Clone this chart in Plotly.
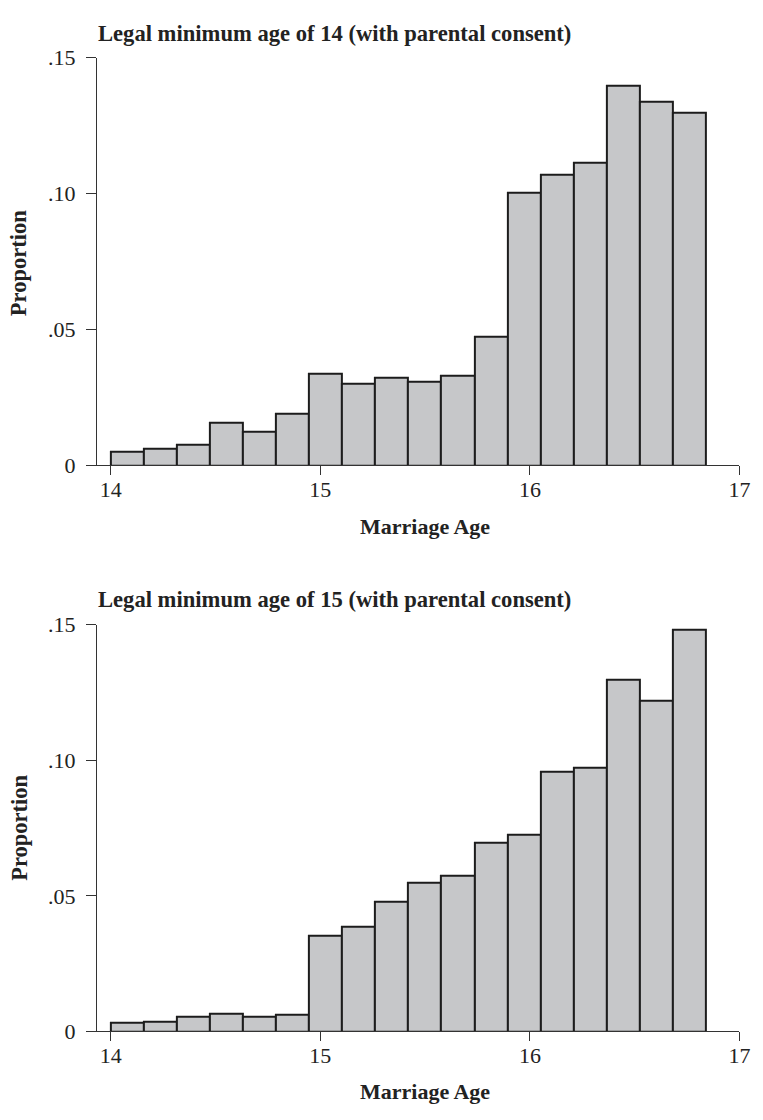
import plotly.graph_objects as go

# ---- data ----
bin_start = 14.0
bin_width = 0.15775
top_values = [0.0052, 0.0062, 0.0078, 0.0159, 0.0126, 0.0192, 0.0339, 0.0300, 0.0323,
              0.0308, 0.0329, 0.0472, 0.1004, 0.1069, 0.1115, 0.1396, 0.1338, 0.1299]
bottom_values = [0.0032, 0.0036, 0.0055, 0.0065, 0.0056, 0.0061, 0.0354, 0.0388, 0.0479,
                 0.0550, 0.0574, 0.0697, 0.0725, 0.0958, 0.0972, 0.1298, 0.1218, 0.1481]
top_title = "Legal minimum age of 14 (with parental consent)"
bottom_title = "Legal minimum age of 15 (with parental consent)"
x_title = "Marriage Age"
y_title = "Proportion"
x_ticks = [14, 15, 16, 17]
y_tickvals = [0, 0.05, 0.10, 0.15]
y_ticktext = ["0", ".05", ".10", ".15"]

W, H = 763, 1120
FONT = "Liberation Serif"
FILL = "#c6c7c9"
EDGE = "#1c1c1c"
INK = "#222222"

def py(p):  # pixel from top -> paper y
    return 1 - p / H

def px(p):
    return p / W

centers = [bin_start + bin_width * (i + 0.5) for i in range(len(top_values))]

fig = go.Figure()
for vals, xa, ya in [(top_values, "x", "y"), (bottom_values, "x2", "y2")]:
    fig.add_trace(go.Bar(
        x=centers, y=vals, width=bin_width, xaxis=xa, yaxis=ya,
        marker=dict(color=FILL, line=dict(color=EDGE, width=2)),
        showlegend=False, hoverinfo="x+y"))

x_dom = [px(98.3), px(750.3)]
x_range = [14 - (112.3 - 98.3) / 212.67, 17]

common_x = dict(
    domain=x_dom, range=x_range, tickvals=x_ticks, ticks="outside", ticklen=9,
    tickwidth=1, tickcolor="#333", showline=True, linecolor="#333", linewidth=1,
    showgrid=False, zeroline=False, ticklabelstandoff=-5,
    tickfont=dict(family=FONT, size=22, color=INK))
common_y = dict(
    range=[0, 0.15], tickvals=y_tickvals, ticktext=y_ticktext, ticks="outside",
    ticklen=10, tickwidth=1, tickcolor="#333", showline=True, linecolor="#333",
    linewidth=1, showgrid=False, zeroline=False, ticklabelstandoff=6,
    tickfont=dict(family=FONT, size=22, color=INK))

fig.update_layout(
    width=W, height=H, margin=dict(l=0, r=0, t=0, b=0),
    paper_bgcolor="white", plot_bgcolor="white", bargap=0,
    xaxis=dict(**common_x, anchor="y"),
    yaxis=dict(**common_y, domain=[py(463.8), py(46.7)], anchor="x"),
    xaxis2=dict(**common_x, anchor="y2"),
    yaxis2=dict(**common_y, domain=[py(1042.7), py(626.7)], anchor="x2"),
)

ann = []
for title, ty, xty, cy in [(top_title, 22.5, 526, 256.7), (bottom_title, 600.8, 1104, 834.2)]:
    ann.append(dict(text=f"<b>{title}</b>", x=px(97.5), y=py(ty), xref="paper", yref="paper",
                    xanchor="left", yanchor="middle", showarrow=False,
                    font=dict(family=FONT, size=22.6, color=INK)))
    ann.append(dict(text=f"<b>{x_title}</b>", x=px(431), y=py(xty), xref="paper", yref="paper",
                    xanchor="center", yanchor="middle", showarrow=False,
                    font=dict(family=FONT, size=22, color=INK)))
    ann.append(dict(text=f"<b>{y_title}</b>", x=px(19.5), y=py(cy), xref="paper", yref="paper",
                    xanchor="center", yanchor="middle", showarrow=False, textangle=-90,
                    font=dict(family=FONT, size=22.5, color=INK)))
fig.update_layout(annotations=ann)

post = ("var gd=document.getElementById('{plot_id}');"
        "document.documentElement.style.margin='0';"
        "document.body.style.margin='0';document.body.style.padding='0';"
        "document.body.style.overflow='hidden';"
        "gd.style.position='absolute';gd.style.left='0px';gd.style.top='0px';")

fig.write_html("out.html", post_script=post, config={"displayModeBar": False})
